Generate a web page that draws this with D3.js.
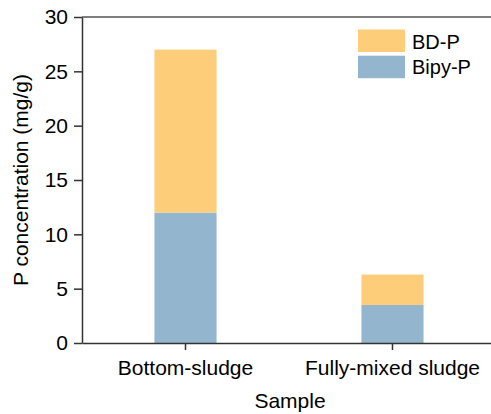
<!DOCTYPE html>
<html>
<head>
	<title>Stacked Bar Chart</title>
	<script src="https://d3js.org/d3.v7.min.js" charset="utf-8"></script>
	<style>
		body { margin: 0; background: #fff; }
		text { font-family: "Liberation Sans", Arial, sans-serif; fill: #000; }
	</style>
</head>
<body>
	<svg width="491" height="414"></svg>
	<script>
		var samples = ['Bottom-sludge', 'Fully-mixed sludge'];
		var seriesNames = ['Bipy-P', 'BD-P'];
		var bipyP = [12.0, 3.5];
		var bdP = [15.0, 2.8];
		var yTicks = [0, 5, 10, 15, 20, 25, 30];
		var colors = { 'Bipy-P': '#93b5cd', 'BD-P': '#fecd79' };

		var svg = d3.select('svg');
		const plotLeft = 82, plotRight = 496, plotTop = 17, plotBottom = 343;

		var table = samples.map(function(s, i) {
			return { sample: s, 'Bipy-P': bipyP[i], 'BD-P': bdP[i] };
		});
		var stacked = d3.stack().keys(seriesNames)(table);

		const xScale = d3.scaleBand()
			.range([plotLeft, plotRight])
			.domain(samples)
			.paddingInner(0.7)
			.paddingOuter(0.35);

		const yScale = d3.scaleLinear()
			.range([plotBottom, plotTop])
			.domain([0, 30]);

		// bars
		svg.append('g').selectAll('g')
			.data(stacked)
			.enter()
			.append('g')
			.style('fill', (s) => colors[s.key])
			.selectAll('rect')
			.data((s) => s)
			.enter()
			.append('rect')
			.attr('x', (d) => xScale(d.data.sample))
			.attr('y', (d) => yScale(d[1]))
			.attr('height', (d) => yScale(d[0]) - yScale(d[1]))
			.attr('width', xScale.bandwidth());

		// top frame line
		svg.append('line')
			.attr('x1', plotLeft).attr('x2', plotRight)
			.attr('y1', plotTop).attr('y2', plotTop)
			.attr('stroke', '#555').attr('stroke-width', 1.5);

		// axes
		var xAxis = svg.append('g')
			.attr('transform', `translate(0, ${plotBottom})`)
			.call(d3.axisBottom(xScale).tickSize(7).tickPadding(10).tickSizeOuter(0));
		xAxis.selectAll('text').style('font-size', '21px');

		var yAxis = svg.append('g')
			.attr('transform', `translate(${plotLeft}, 0)`)
			.call(d3.axisLeft(yScale).tickValues(yTicks).tickSize(8).tickPadding(6).tickSizeOuter(0));
		yAxis.selectAll('text').style('font-size', '21px');

		svg.selectAll('.domain, .tick line')
			.attr('stroke', '#333').attr('stroke-width', 1.5);

		// axis titles
		svg.append('text')
			.attr('x', 290).attr('y', 408)
			.attr('text-anchor', 'middle')
			.style('font-size', '21px')
			.text('Sample');

		svg.append('text')
			.attr('transform', 'translate(28, 180) rotate(-90)')
			.attr('text-anchor', 'middle')
			.style('font-size', '21px')
			.text('P concentration (mg/g)');

		// legend
		var legendItems = ['BD-P', 'Bipy-P'];
		var legend = svg.append('g');
		legendItems.forEach(function(k, i) {
			legend.append('rect')
				.attr('x', 358).attr('y', 29.5 + i * 26.2)
				.attr('width', 47).attr('height', 22.5)
				.style('fill', colors[k]);
			legend.append('text')
				.attr('x', 412).attr('y', 48.5 + i * 25.5)
				.style('font-size', '20px')
				.text(k);
		});
	</script>
</body>
</html>
